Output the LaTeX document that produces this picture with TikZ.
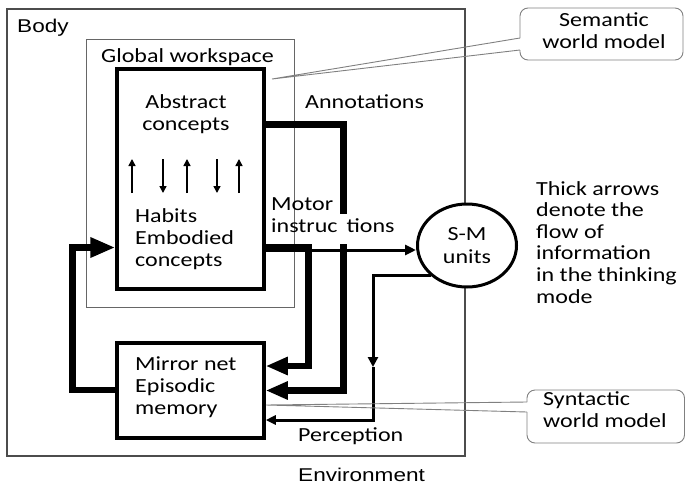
\documentclass[tikz,border=0pt]{standalone}
\usepackage{fontspec}
\setmainfont{Carlito}[FakeStretch=1.2]
\newfontfamily\arialf{Liberation Sans}[FakeStretch=1.22]
\usetikzlibrary{arrows.meta,shapes.geometric}
\begin{document}
\begin{tikzpicture}[x=1pt,y=-1pt,
  txt/.style={font=\fontsize{20}{22}\selectfont, inner sep=0pt, align=left, anchor=base west},
  atxt/.style={font=\arialf\fontsize{18.5}{22}\selectfont, inner sep=0pt, anchor=base west},
  frame/.style={draw, inner sep=0pt},
  thk/.style={line width=6.5pt, line join=miter},
  med/.style={line width=3pt, line join=miter},
  thin/.style={line width=1.5pt},
  smalltip/.tip={Triangle[length=7pt,width=7pt]},
  callout/.style={draw=black!50, line width=0.9pt},
  bigtip/.tip={Triangle[length=22pt,width=17pt]},
]
\useasboundingbox (0,0) rectangle (686,485);

% frames
\node[frame, draw=black!70, line width=1.5pt, minimum width=458pt, minimum height=447pt] (body) at (236,232.5) {};
\node[frame, draw=black!60, line width=1pt, minimum width=208pt, minimum height=268pt] (gw) at (190,173) {};
\node[frame, line width=3.5pt, minimum width=147pt, minimum height=220pt] (hab) at (190.5,179) {};
\node[frame, line width=3.5pt, minimum width=147pt, minimum height=95pt] (mir) at (190.5,390.5) {};
\node[draw, fill=white, ellipse, line width=3pt, minimum width=99pt, minimum height=83pt, inner sep=0pt,
      font=\fontsize{20}{23}\selectfont, align=center] (sm) at (467,245.5) {S-M\\units};

% labels (base anchor of a multi-line node = baseline of its last line)
\node[atxt] (bodylbl) at (17,32) {Body};
\node[txt] (gwlbl) at (101,62) {Global workspace};
\node[txt, align=center, anchor=base] (abs) at (186,130) {Abstract\\concepts};
\node[txt] (habl) at (135,266) {Habits\\Embodied\\concepts};
\node[txt] (mirl) at (135,414) {Mirror net\\Episodic\\memory};
\node[txt] (ann) at (305,108) {Annotations};
\node[txt, font=\fontsize{20}{21.6}\selectfont] (note) at (536,303) {Thick arrows\\denote the\\flow of\\information\\in the thinking\\mode};
\node[txt] (perc) at (298,441) {Perception};
\node[atxt] (env) at (298,481) {Environment};

% small arrows inside the upper box
\draw[thin, -smalltip] (132,193) -- (132,159);
\draw[thin, -smalltip] (163,159) -- (163,193);
\draw[thin, -smalltip] (187,193) -- (187,159);
\draw[thin, -smalltip] (217,159) -- (217,193);
\draw[thin, -smalltip] (239,193) -- (239,159);

% thick arrows
\coordinate (k1) at (343.5,124.5);
\coordinate (k2) at (343.5,390.5);
\draw[thk, -bigtip] (hab.east |- k1) -- (k1) -- (k2) -- (mir.east |- k2);
\coordinate (k3) at (308.5,247.5);
\coordinate (k4) at (308.5,366);
\draw[thk, -bigtip] (hab.east |- k3) -- (k3) -- (k4) -- (mir.east |- k4);
\coordinate (k5) at (72.5,390);
\coordinate (k6) at (72.5,247.5);
\draw[thk, -{Triangle[length=25pt,width=19pt]}] (mir.west |- k5) -- (k5) -- (k6) -- (hab.west |- k6);

% motor instructions
\coordinate (k7) at (0,250);
\draw[med, -{Triangle[length=11pt,width=10pt]}] (hab.east |- k7) -- (sm.west |- k7);
\fill[white] (337,214) rectangle (350,244);
\node[txt] (mot) at (271,232) {Motor\\instruc\hspace{9pt}tions};

% perception
\coordinate (k8) at (373,367);
\coordinate (k9) at (373,420);
\draw[med, -{Triangle[length=10pt,width=10pt]}] (sm.south west) -| (k8);
\draw[med, -{Triangle[length=10pt,width=9pt]}] (k8) -- (k9) -- (mir.east |- k9);

% callouts
\node[txt, align=center, anchor=base] (sem) at (604,48) {Semantic\\world model};
\draw[callout, rounded corners=8pt] (520,50) -- (520,60) -- (683,60) -- (683,8) -- (520,8) -- (520,38);
\draw[callout] (520,38) -- (272,79) -- (520,50);
\node[txt] (syn) at (543,427) {Syntactic\\world model};
\draw[callout, rounded corners=8pt] (527,412) -- (527,443) -- (684.5,443) -- (684.5,390) -- (527,390) -- (527,402);
\draw[callout] (527,402) -- (266,405) -- (527,412);
\end{tikzpicture}
\end{document}
